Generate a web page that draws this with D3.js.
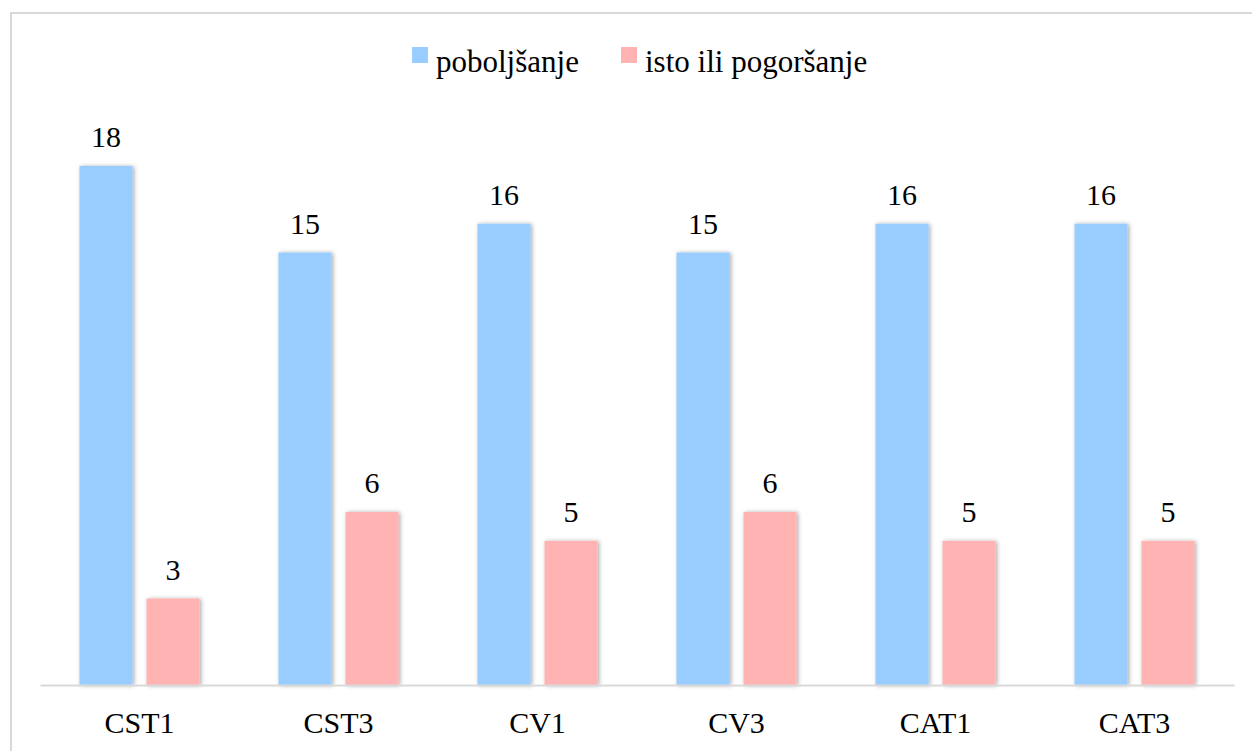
<!DOCTYPE html>
<html>
<head>
<meta charset="utf-8">
<script src="https://cdn.jsdelivr.net/npm/d3@7"></script>
<style>
  html, body { margin: 0; padding: 0; background: #fff; }
  svg { display: block; }
</style>
</head>
<body>
<svg id="chart" width="1252" height="751"></svg>
<script>
const categories = ["CST1", "CST3", "CV1", "CV3", "CAT1", "CAT3"];
const seriesNames = ["poboljšanje", "isto ili pogoršanje"];
const improved = [18, 15, 16, 15, 16, 16];
const sameOrWorse = [3, 6, 5, 6, 5, 5];
const colors = ["#99CCFF", "#FFB3B3"];

const svg = d3.select("#chart");
const W = 1252, H = 751;
const font = "'Liberation Serif', 'Times New Roman', serif";

// defs: shadow
const defs = svg.append("defs");
const f = defs.append("filter").attr("id", "sh").attr("x", "-30%").attr("y", "-10%").attr("width", "160%").attr("height", "120%");
f.append("feDropShadow").attr("dx", 1.5).attr("dy", 0.5).attr("stdDeviation", 2.2)
  .attr("flood-color", "#000").attr("flood-opacity", 0.35);

// outer border (left + top)
svg.append("path")
  .attr("d", `M11,${H} L11,13 L${W},13`)
  .attr("fill", "none").attr("stroke", "#d9d9d9").attr("stroke-width", 2);

const x0 = 40, x1 = 1234, y0 = 685;
const x = d3.scaleBand().domain(categories).range([x0, x1]).paddingInner(0).paddingOuter(0);
const y = d3.scaleLinear().domain([0, 18]).range([y0, 166]);

const barW = 53, gap = 14;
const data = categories.map((c, i) => ({ c, vals: [improved[i], sameOrWorse[i]] }));

const g = svg.append("g");
data.forEach(d => {
  const cx = x(d.c) + x.bandwidth() / 2;
  const left = cx - (2 * barW + gap) / 2;
  d.vals.forEach((v, j) => {
    const bx = left + j * (barW + gap);
    g.append("rect")
      .attr("x", bx).attr("y", y(v))
      .attr("width", barW).attr("height", y(0) - y(v))
      .attr("fill", colors[j]).attr("filter", "url(#sh)");
    g.append("text")
      .attr("x", bx + barW / 2).attr("y", y(v) - 19)
      .attr("text-anchor", "middle")
      .attr("font-family", font).attr("font-size", 30).attr("fill", "#000")
      .text(v);
  });
});

// baseline axis
const axis = d3.axisBottom(x).tickSize(0).tickPadding(0);
const ag = svg.append("g").attr("transform", `translate(0,${y0})`).call(axis);
ag.select(".domain").attr("stroke", "#d9d9d9").attr("stroke-width", 2);
ag.selectAll(".tick text")
  .attr("font-family", font).attr("font-size", 30).attr("fill", "#000")
  .attr("dy", 0).attr("y", 48);

// legend
const legend = [
  { name: seriesNames[0], color: colors[0], sx: 412, tx: 436 },
  { name: seriesNames[1], color: colors[1], sx: 621, tx: 645 }
];
legend.forEach(l => {
  svg.append("rect").attr("x", l.sx).attr("y", 47).attr("width", 16).attr("height", 16).attr("fill", l.color);
  svg.append("text").attr("x", l.tx).attr("y", 72)
    .attr("font-family", font).attr("font-size", 31).attr("fill", "#000")
    .text(l.name);
});
</script>
</body>
</html>
